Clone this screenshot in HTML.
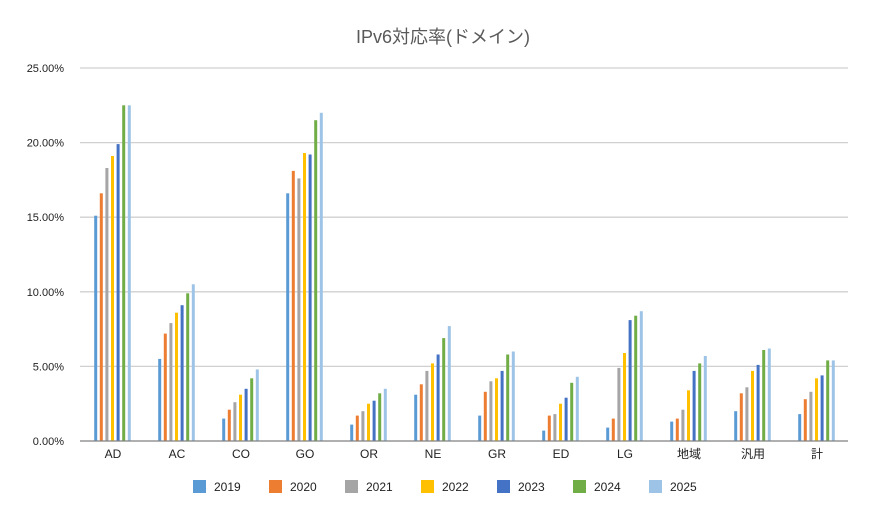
<!DOCTYPE html>
<html><head><meta charset="utf-8"><style>
body{margin:0;background:#fff;}
svg{display:block;font-family:"Liberation Sans","Noto Sans CJK JP",sans-serif;}
</style></head><body>
<svg id="c" width="886" height="520" viewBox="0 0 886 520">
<rect width="886" height="520" fill="#fff"/>
<text x="443" y="43" text-anchor="middle" font-size="18" fill="#595959">IPv6対応率(ドメイン)</text>
<g stroke="#d0d0d0" stroke-width="1.3">
<line x1="80" x2="848" y1="68" y2="68"/>
<line x1="80" x2="848" y1="142.6" y2="142.6"/>
<line x1="80" x2="848" y1="217.2" y2="217.2"/>
<line x1="80" x2="848" y1="291.8" y2="291.8"/>
<line x1="80" x2="848" y1="366.4" y2="366.4"/>
</g>
<g font-size="11" fill="#222" text-anchor="end">
<text x="64" y="72">25.00%</text>
<text x="64" y="146.6">20.00%</text>
<text x="64" y="221.2">15.00%</text>
<text x="64" y="295.8">10.00%</text>
<text x="64" y="370.4">5.00%</text>
<text x="64" y="445">0.00%</text>
</g>
<g id="bars"></g>
<line x1="80" x2="848" y1="441" y2="441" stroke="#808080" stroke-width="1.3"/>
<g font-size="12" fill="#222" text-anchor="middle">
<text x="113" y="458">AD</text><text x="177" y="458">AC</text><text x="241" y="458">CO</text>
<text x="305" y="458">GO</text><text x="369" y="458">OR</text><text x="433" y="458">NE</text>
<text x="497" y="458">GR</text><text x="561" y="458">ED</text><text x="625" y="458">LG</text>
<text x="689" y="458">地域</text><text x="753" y="458">汎用</text><text x="817" y="458">計</text>
</g>
<g font-size="12" fill="#222">
<rect x="193" y="480" width="13" height="13" fill="#5B9BD5"/><text x="214" y="491">2019</text>
<rect x="269" y="480" width="13" height="13" fill="#ED7D31"/><text x="290" y="491">2020</text>
<rect x="345" y="480" width="13" height="13" fill="#A5A5A5"/><text x="366" y="491">2021</text>
<rect x="421" y="480" width="13" height="13" fill="#FFC000"/><text x="442" y="491">2022</text>
<rect x="497" y="480" width="13" height="13" fill="#4472C4"/><text x="518" y="491">2023</text>
<rect x="573" y="480" width="13" height="13" fill="#70AD47"/><text x="594" y="491">2024</text>
<rect x="649" y="480" width="13" height="13" fill="#9DC3E6"/><text x="670" y="491">2025</text>
</g>
</svg>
<script>
var d=[[15.1,16.6,18.3,19.1,19.9,22.5,22.5],[5.5,7.2,7.9,8.6,9.1,9.9,10.5],[1.5,2.1,2.6,3.1,3.5,4.2,4.8],[16.6,18.1,17.6,19.3,19.2,21.5,22.0],[1.1,1.7,2.0,2.5,2.7,3.2,3.5],[3.1,3.8,4.7,5.2,5.8,6.9,7.7],[1.7,3.3,4.0,4.2,4.7,5.8,6.0],[0.7,1.7,1.8,2.5,2.9,3.9,4.3],[0.9,1.5,4.9,5.9,8.1,8.4,8.7],[1.3,1.5,2.1,3.4,4.7,5.2,5.7],[2.0,3.2,3.6,4.7,5.1,6.1,6.2],[1.8,2.8,3.3,4.2,4.4,5.4,5.4]];
var col=["#5B9BD5","#ED7D31","#A5A5A5","#FFC000","#4472C4","#70AD47","#9DC3E6"];
var g=document.getElementById("bars"),s="";
for(var i=0;i<12;i++){var cx=112.5+i*64;for(var j=0;j<7;j++){var v=d[i][j],h=v*14.92,x=cx+(j-3)*5.6-1.5;s+='<rect x="'+x.toFixed(1)+'" y="'+(441-h).toFixed(1)+'" width="3" height="'+h.toFixed(1)+'" fill="'+col[j]+'"/>';}}
g.innerHTML=s;
</script>
</body></html>
